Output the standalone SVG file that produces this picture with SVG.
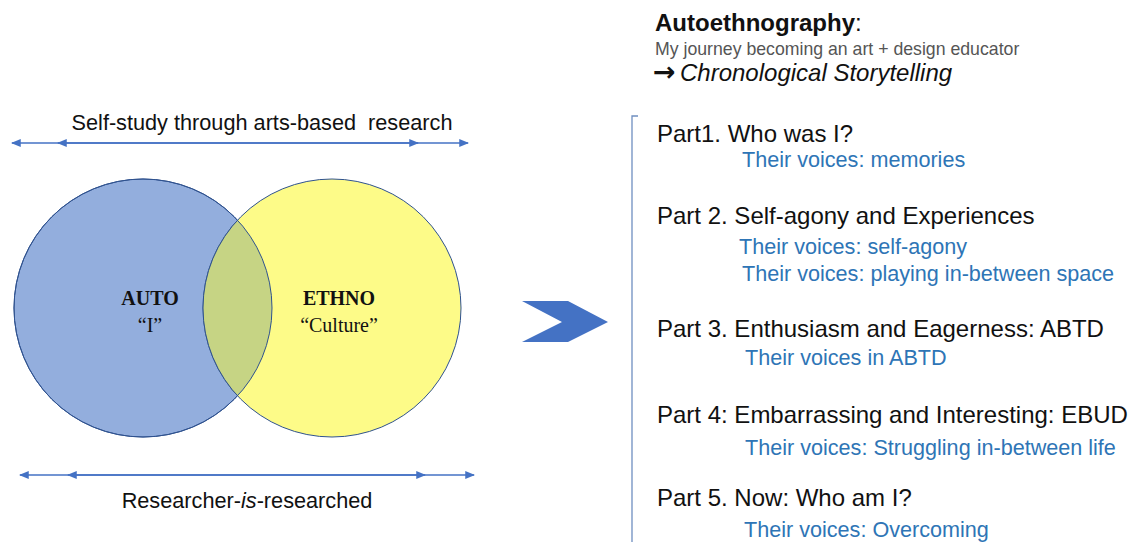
<svg xmlns="http://www.w3.org/2000/svg" width="1147" height="542" viewBox="0 0 1147 542">
  <style>
    .sans { font-family: "Liberation Sans", Arial, sans-serif; }
    .serif { font-family: "Liberation Serif", "Times New Roman", serif; }
    .rule { stroke: #4472c4; stroke-width: 1.5; fill: none; }
    .part { font-size: 24px; fill: #111; }
    .voice { font-size: 21.6px; fill: #2e75b6; }
    .venn-label { font-size: 20px; fill: #111; }
    .arrow-glyph { font-family: "DejaVu Sans", sans-serif; font-size: 27px; font-weight: bold; }
  </style>
  <defs>
    <marker id="head" viewBox="0 0 10 10" refX="9" refY="5" markerWidth="6.5" markerHeight="6.5" orient="auto-start-reverse">
      <path d="M0,1 L10,5 L0,9 z" fill="#4472c4"/>
    </marker>
    <clipPath id="blueClip">
      <circle cx="143" cy="308" r="129"/>
    </clipPath>
  </defs>
  <rect width="1147" height="542" fill="#ffffff"/>

  <!-- span arrows -->
  <g id="connectors">
    <line class="rule" x1="12" y1="143" x2="418" y2="143" marker-start="url(#head)" marker-end="url(#head)"/>
    <line class="rule" x1="58" y1="143" x2="468" y2="143" marker-start="url(#head)" marker-end="url(#head)"/>
    <line class="rule" x1="20" y1="475" x2="425" y2="475" marker-start="url(#head)" marker-end="url(#head)"/>
    <line class="rule" x1="68" y1="475" x2="474" y2="475" marker-start="url(#head)" marker-end="url(#head)"/>
  </g>

  <g id="span-top">
    <text class="sans" x="262" y="130" font-size="21.7" text-anchor="middle" fill="#111" xml:space="preserve">Self-study through arts-based  research</text>
  </g>
  <g id="span-bottom">
    <text class="sans" x="247" y="508" font-size="21.7" text-anchor="middle" fill="#111">Researcher-<tspan font-style="italic">is</tspan>-researched</text>
  </g>

  <!-- Venn diagram -->
  <g id="auto">
    <circle cx="143" cy="308" r="129" fill="#93aedd" stroke="#2f528f" stroke-width="1"/>
  </g>
  <g id="ethno">
    <circle cx="332" cy="308" r="129" fill="#fdfb88" stroke="#2f528f" stroke-width="1"/>
  </g>
  <g id="overlap">
    <circle cx="332" cy="308" r="129" fill="#c6d484" stroke="#2f528f" stroke-width="1" clip-path="url(#blueClip)"/>
    <circle cx="143" cy="308" r="129" fill="none" stroke="#2f528f" stroke-width="1"/>
  </g>
  <g id="auto-label">
    <text class="serif venn-label" x="150" y="305" text-anchor="middle" font-weight="bold">AUTO</text>
    <text class="serif venn-label" x="150" y="332" text-anchor="middle">“I”</text>
  </g>
  <g id="ethno-label">
    <text class="serif venn-label" x="339" y="305" text-anchor="middle" font-weight="bold">ETHNO</text>
    <text class="serif venn-label" x="339" y="332" text-anchor="middle">“Culture”</text>
  </g>

  <!-- chevron -->
  <g id="chevron">
    <polygon points="522,301 568,301 608,322 568,342 522,342 562,322" fill="#4472c4"/>
  </g>

  <!-- heading -->
  <g id="heading">
    <text class="sans" x="655" y="31" font-size="24" fill="#111"><tspan font-weight="bold">Autoethnography</tspan>:</text>
    <text class="sans" x="655" y="55" font-size="17.7" fill="#555">My journey becoming an art + design educator</text>
    <text class="sans" x="653" y="81" font-size="24" fill="#111"><tspan class="arrow-glyph">→</tspan><tspan x="680" font-style="italic">Chronological Storytelling</tspan></text>
  </g>

  <!-- bracket -->
  <g id="bracket">
    <path d="M638,116 L632,116 L632,542" stroke="#6f8fc0" stroke-width="1.3" fill="none"/>
  </g>

  <g id="part1">
    <text class="sans part" x="657" y="142">Part1. Who was I?</text>
    <text class="sans voice" x="742" y="166.5">Their voices: memories</text>
  </g>
  <g id="part2">
    <text class="sans part" x="657" y="224">Part 2. Self-agony and Experiences</text>
    <text class="sans voice" x="739" y="254">Their voices: self-agony</text>
    <text class="sans voice" x="742" y="281">Their voices: playing in-between space</text>
  </g>
  <g id="part3">
    <text class="sans part" x="657" y="337">Part 3. Enthusiasm and Eagerness: ABTD</text>
    <text class="sans voice" x="745" y="365">Their voices in ABTD</text>
  </g>
  <g id="part4">
    <text class="sans part" x="657" y="423">Part 4: Embarrassing and Interesting: EBUD</text>
    <text class="sans voice" x="745" y="455">Their voices: Struggling in-between life</text>
  </g>
  <g id="part5">
    <text class="sans part" x="657" y="506">Part 5. Now: Who am I?</text>
    <text class="sans voice" x="744" y="537">Their voices: Overcoming</text>
  </g>
</svg>
